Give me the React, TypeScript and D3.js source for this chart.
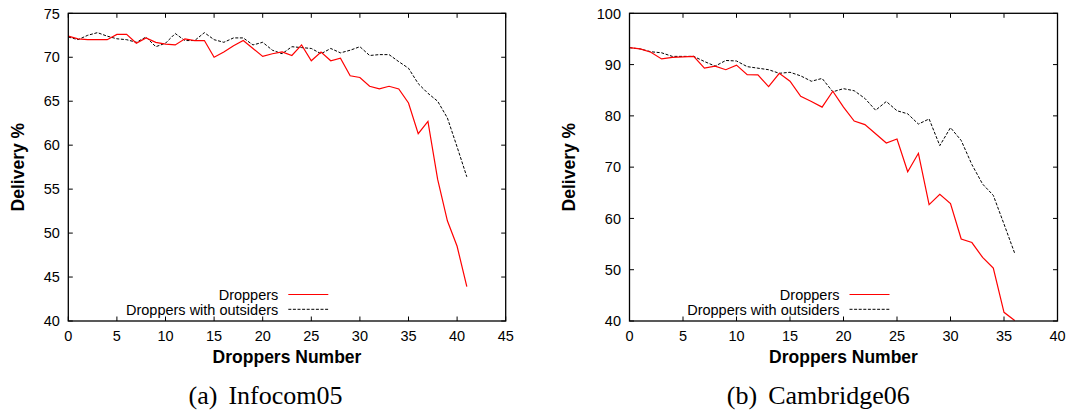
import React from "react";
import * as d3 from "d3";

// ---------- Data ----------
const infocomX = d3.range(0, 42);
const infocomDroppers = [72.4, 72.1, 72.0, 72.0, 72.0, 72.6, 72.6, 71.6, 72.2, 71.7, 71.5, 71.4, 72.1, 71.9, 71.9, 70.0, 70.6, 71.3, 71.9, 71.0, 70.1, 70.4, 70.6, 70.2, 71.4, 69.6, 70.6, 69.6, 69.9, 67.9, 67.7, 66.7, 66.4, 66.7, 66.4, 64.8, 61.3, 62.7, 56.1, 51.4, 48.5, 43.9];
const infocomOutsiders = [72.3, 72.0, 72.5, 72.8, 72.4, 72.1, 72.0, 71.7, 72.3, 71.2, 71.6, 72.7, 71.9, 71.9, 72.8, 72.0, 71.7, 72.2, 72.2, 71.4, 71.7, 70.8, 70.4, 71.2, 71.1, 71.0, 70.4, 71.0, 70.5, 70.8, 71.2, 70.2, 70.3, 70.3, 69.5, 68.75, 67.0, 65.9, 65.0, 63.1, 59.8, 56.4];

const cambridgeX = d3.range(0, 37);
const cambridgeDroppers = [93.3, 93.05, 92.4, 91.1, 91.4, 91.5, 91.6, 89.3, 89.7, 89.0, 89.9, 88.05, 88.0, 85.7, 88.3, 86.75, 83.8, 82.8, 81.7, 84.8, 81.7, 79.0, 78.3, 76.5, 74.7, 75.5, 69.1, 72.7, 62.7, 64.7, 62.9, 56.0, 55.3, 52.4, 50.3, 41.7, 40.1];
const cambridgeOutsiders = [93.3, 93.05, 92.5, 92.3, 91.6, 91.6, 91.6, 90.6, 89.7, 90.8, 90.7, 89.6, 89.3, 89.0, 88.3, 88.5, 87.8, 86.75, 87.3, 84.7, 85.3, 84.9, 83.4, 81.1, 82.8, 81.0, 80.4, 78.4, 79.4, 74.2, 77.7, 75.2, 70.5, 66.7, 64.5, 58.9, 53.2];

const infocomXTicks = [0, 5, 10, 15, 20, 25, 30, 35, 40, 45];
const infocomYTicks = [40, 45, 50, 55, 60, 65, 70, 75];
const cambridgeXTicks = [0, 5, 10, 15, 20, 25, 30, 35, 40];
const cambridgeYTicks = [40, 50, 60, 70, 80, 90, 100];

const seriesNames = ["Droppers", "Droppers with outsiders"];
const xTitle = "Droppers Number";
const yTitle = "Delivery %";

const SANS = "'Liberation Sans', Arial, Helvetica, sans-serif";
const SERIF = "'Liberation Serif', 'Times New Roman', serif";

type PanelProps = {
  left: number;
  right: number;
  top: number;
  bottom: number;
  xDomain: [number, number];
  yDomain: [number, number];
  xTicks: number[];
  yTicks: number[];
  xs: number[];
  red: number[];
  black: number[];
  caption: [string, string];
  captionX: number;
  yTitleX: number;
  legendTextX: number;
};

function Panel(p: PanelProps) {
  const x = d3.scaleLinear().domain(p.xDomain).range([p.left, p.right]);
  const y = d3.scaleLinear().domain(p.yDomain).range([p.bottom, p.top]);
  const line = d3
    .line<[number, number]>()
    .x((d) => x(d[0]))
    .y((d) => y(d[1]));
  const redPts = p.xs.map((v, i) => [v, p.red[i]] as [number, number]);
  const blackPts = p.xs.map((v, i) => [v, p.black[i]] as [number, number]);
  const tl = 4.5;
  const cx = (p.left + p.right) / 2;
  const cy = (p.top + p.bottom) / 2;
  const legY1 = 294.5;
  const legY2 = 309.3;
  const legL = p.legendTextX + 10;
  const legR = legL + 40;
  return (
    <g>
      {p.xTicks.map((t) => (
        <g key={"xt" + t}>
          <line x1={x(t)} x2={x(t)} y1={p.bottom} y2={p.bottom - tl} stroke="#000" strokeWidth={1} />
          <line x1={x(t)} x2={x(t)} y1={p.top} y2={p.top + tl} stroke="#000" strokeWidth={1} />
          <text x={x(t)} y={341} textAnchor="middle" fontFamily={SANS} fontSize={14.5} fill="#000">
            {t}
          </text>
        </g>
      ))}
      {p.yTicks.map((t) => (
        <g key={"yt" + t}>
          <line x1={p.left} x2={p.left + tl} y1={y(t)} y2={y(t)} stroke="#000" strokeWidth={1} />
          <line x1={p.right} x2={p.right - tl} y1={y(t)} y2={y(t)} stroke="#000" strokeWidth={1} />
          <text x={p.left - 8.5} y={y(t)} dy="0.36em" textAnchor="end" fontFamily={SANS} fontSize={14.5} fill="#000">
            {t}
          </text>
        </g>
      ))}
      <path d={line(blackPts) || ""} fill="none" stroke="#000" strokeWidth={1} strokeDasharray="3,1.6" />
      <path d={line(redPts) || ""} fill="none" stroke="#ff0000" strokeWidth={1.2} />
      <rect
        x={p.left}
        y={p.top}
        width={p.right - p.left}
        height={p.bottom - p.top}
        fill="none"
        stroke="#000"
        strokeWidth={1.3}
      />
      {/* legend */}
      <text x={p.legendTextX} y={legY1} dy="0.36em" textAnchor="end" fontFamily={SANS} fontSize={14.5} fill="#000">
        {seriesNames[0]}
      </text>
      <line x1={legL} x2={legR} y1={legY1} y2={legY1} stroke="#ff0000" strokeWidth={1.2} />
      <text x={p.legendTextX} y={legY2} dy="0.36em" textAnchor="end" fontFamily={SANS} fontSize={14.5} fill="#000">
        {seriesNames[1]}
      </text>
      <line x1={legL} x2={legR} y1={legY2} y2={legY2} stroke="#000" strokeWidth={1} strokeDasharray="3,1.6" />
      {/* titles */}
      <text x={cx} y={362.5} textAnchor="middle" fontFamily={SANS} fontWeight="bold" fontSize={17.5} fill="#000">
        {xTitle}
      </text>
      <text
        transform={`translate(${p.yTitleX},${cy}) rotate(-90)`}
        textAnchor="middle"
        fontFamily={SANS}
        fontWeight="bold"
        fontSize={17.5}
        fill="#000"
      >
        {yTitle}
      </text>
      <text x={p.captionX} y={404} textAnchor="middle" fontFamily={SERIF} fontSize={26} fill="#000">
        {p.caption[0]}
        <tspan dx={11}>{p.caption[1]}</tspan>
      </text>
    </g>
  );
}

export default function App() {
  return (
    <svg
      width={1070}
      height={412}
      style={{ position: "absolute", left: 0, top: 0, background: "#fff" }}
    >
      <rect x={0} y={0} width={1070} height={412} fill="#fff" />
      <Panel
        left={68.3}
        right={505.7}
        top={13.3}
        bottom={321}
        xDomain={[0, 45]}
        yDomain={[40, 75]}
        xTicks={infocomXTicks}
        yTicks={infocomYTicks}
        xs={infocomX}
        red={infocomDroppers}
        black={infocomOutsiders}
        caption={["(a)", "Infocom05"]}
        captionX={265.5}
        yTitleX={23.5}
        legendTextX={278.3}
      />
      <Panel
        left={629.5}
        right={1057.5}
        top={13.3}
        bottom={321}
        xDomain={[0, 40]}
        yDomain={[40, 100]}
        xTicks={cambridgeXTicks}
        yTicks={cambridgeYTicks}
        xs={cambridgeX}
        red={cambridgeDroppers}
        black={cambridgeOutsiders}
        caption={["(b)", "Cambridge06"]}
        captionX={818.3}
        yTitleX={575}
        legendTextX={839.5}
      />
    </svg>
  );
}
